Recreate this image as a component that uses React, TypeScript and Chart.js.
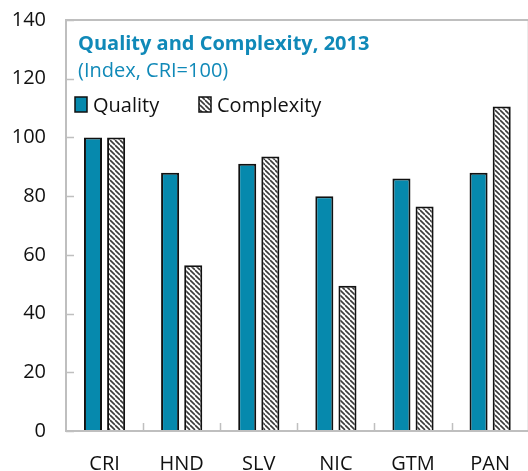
import React, { useEffect, useRef } from "react";
import { Chart, registerables } from "chart.js";

Chart.register(...registerables);

const categories = ["CRI", "HND", "SLV", "NIC", "GTM", "PAN"];
const quality = [100, 88, 91, 80, 86, 88];
const complexity = [100, 56.5, 93.5, 49.5, 76.5, 110.5];
const seriesLabels = ["Quality", "Complexity"];
const yMin = 0;
const yMax = 140;
const yStep = 20;
const titleText = "Quality and Complexity, 2013";
const subtitleText = "(Index, CRI=100)";

const FONT = "'Open Sans', 'Noto Sans', sans-serif";
const TEAL = "#0689ad";
const TITLE_COLOR = "#1089b8";
const FRAME = "#bfbfbf";

function makeHatch(): CanvasPattern | string {
  const s = 5;
  const c = document.createElement("canvas");
  c.width = s;
  c.height = s;
  const g = c.getContext("2d");
  if (!g) return "#ccc";
  g.fillStyle = "#ffffff";
  g.fillRect(0, 0, s, s);
  g.strokeStyle = "#3a3a3a";
  g.lineWidth = 1.6;
  for (let k = -1; k <= 1; k++) {
    g.beginPath();
    g.moveTo(0, k * s);
    g.lineTo(s, s + k * s);
    g.stroke();
  }
  const p = g.createPattern(c, "repeat");
  return p || "#ccc";
}

const framePlugin = {
  id: "framePlugin",
  afterDatasetsDraw(chart: any) {
    const { ctx, chartArea } = chart;
    const { left, right, top, bottom } = chartArea;
    const xs = chart.scales.x;
    const ys = chart.scales.y;
    ctx.save();
    ctx.strokeStyle = FRAME;
    ctx.lineWidth = 2;
    ctx.strokeRect(left, top, right - left, bottom - top);
    ctx.lineWidth = 1.5;
    for (let v = yMin; v <= yMax; v += yStep) {
      const y = Math.round(ys.getPixelForValue(v)) + 0.5;
      ctx.beginPath();
      ctx.moveTo(left, y);
      ctx.lineTo(left + 8, y);
      ctx.stroke();
    }
    for (let i = 0; i < categories.length - 1; i++) {
      const x = Math.round((xs.getPixelForValue(i) + xs.getPixelForValue(i + 1)) / 2) + 0.5;
      ctx.beginPath();
      ctx.moveTo(x, bottom);
      ctx.lineTo(x, bottom - 8);
      ctx.stroke();
    }
    ctx.restore();
  },
  afterDraw(chart: any) {
    const { ctx, chartArea } = chart;
    const x0 = chartArea.left + 12;
    ctx.save();
    ctx.fillStyle = TITLE_COLOR;
    ctx.textBaseline = "alphabetic";
    ctx.textAlign = "left";
    ctx.font = `bold 20px ${FONT}`;
    ctx.fillText(titleText, x0, 50);
    ctx.font = `20px ${FONT}`;
    ctx.fillText(subtitleText, x0, 77);

    // legend
    const ds = chart.data.datasets;
    const items = [
      { x: chartArea.left + 9, tx: chartArea.left + 27 },
      { x: chartArea.left + 133, tx: chartArea.left + 151 },
    ];
    ds.forEach((d: any, i: number) => {
      const it = items[i];
      ctx.fillStyle = d.backgroundColor;
      ctx.fillRect(it.x, 97, 12, 15);
      ctx.strokeStyle = "#111";
      ctx.lineWidth = 1.5;
      ctx.strokeRect(it.x, 97, 12, 15);
      ctx.fillStyle = "#111";
      ctx.font = `20px ${FONT}`;
      ctx.fillText(d.label, it.tx, 112);
    });
    ctx.restore();
  },
};

export default function App() {
  const ref = useRef<HTMLCanvasElement | null>(null);
  useEffect(() => {
    if (!ref.current) return;
    const hatch = makeHatch();
    const chart = new Chart(ref.current, {
      type: "bar",
      data: {
        labels: categories,
        datasets: [
          {
            label: seriesLabels[0],
            data: quality,
            backgroundColor: TEAL,
            borderColor: "#111",
            borderWidth: 2,
          },
          {
            label: seriesLabels[1],
            data: complexity,
            backgroundColor: hatch as any,
            borderColor: "#111",
            borderWidth: 2,
          },
        ],
      },
      options: {
        responsive: false,
        animation: false,
        events: [],
        layout: { padding: { top: 20, right: 0, left: 0, bottom: 0 } },
        datasets: {
          bar: { categoryPercentage: 0.6, barPercentage: 0.78 },
        },
        plugins: {
          legend: { display: false },
          title: { display: false },
          tooltip: { enabled: false },
        },
        scales: {
          x: {
            grid: { display: false, drawTicks: false },
            border: { display: false },
            ticks: {
              color: "#111",
              font: { family: FONT, size: 20 },
              padding: 21,
              maxRotation: 0,
            },
            afterFit(scale: any) {
              scale.height = 40;
            },
          },
          y: {
            min: yMin,
            max: yMax,
            grid: { display: false, drawTicks: false },
            border: { display: false },
            ticks: {
              stepSize: yStep,
              color: "#111",
              font: { family: FONT, size: 20 },
              padding: 20,
            },
            afterFit(scale: any) {
              scale.width = 66;
              scale.paddingTop = 0;
              scale.paddingBottom = 0;
            },
          },
        },
      },
      plugins: [framePlugin],
    });
    return () => chart.destroy();
  }, []);

  return (
    <div
      style={{
        position: "fixed",
        left: 0,
        top: 0,
        width: 528,
        height: 471,
        overflow: "hidden",
        background: "#fff",
      }}
    >
      <canvas ref={ref} width={531} height={471} style={{ width: 531, height: 471, display: "block" }} />
    </div>
  );
}
